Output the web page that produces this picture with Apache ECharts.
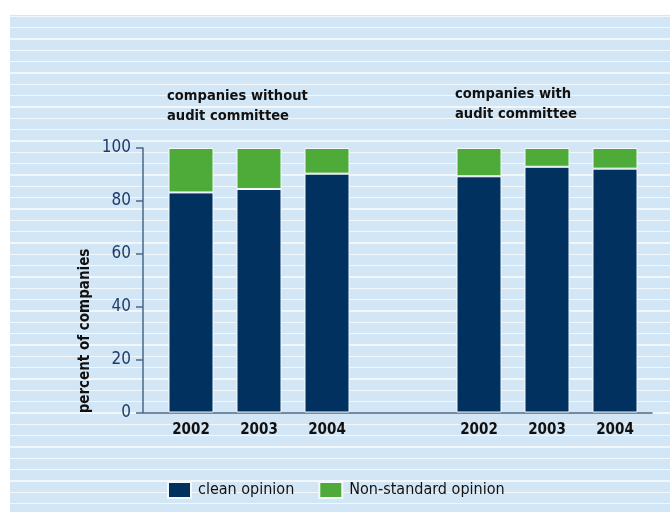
<!DOCTYPE html>
<html>
<head>
<meta charset="utf-8">
<script src="https://cdn.jsdelivr.net/npm/echarts@6/dist/echarts.min.js"></script>
<style>
  html, body { margin: 0; padding: 0; background: #ffffff; }
  #wrap { position: relative; width: 670px; height: 512px; overflow: hidden; }
  /* lined paper look behind the chart */
  #paper {
    position: absolute; left: 10px; top: 15px; right: 0; bottom: 0;
    background: repeating-linear-gradient(to bottom,
      #d3e6f5 0px, #d3e6f5 0.6px,
      #f2f7fc 0.6px, #f2f7fc 2px,
      #d3e6f5 2px, #d3e6f5 11.333px);
  }
  #main { position: absolute; left: 0; top: 0; width: 670px; height: 512px; }
</style>
</head>
<body>
<div id="wrap">
  <div id="paper"></div>
  <div id="main"></div>
</div>
<script>
  // data
  var years = ['2002', '2003', '2004'];
  var cleanWithout = [83.2, 84.5, 90.3];
  var otherWithout = [16.8, 15.5, 9.7];
  var cleanWith = [89.3, 92.9, 92.2];
  var otherWith = [10.7, 7.1, 7.8];
  var yTicks = [0, 20, 40, 60, 80, 100];

  var font = "'Liberation Sans Narrow', 'DejaVu Sans Condensed', 'Roboto Condensed', sans-serif";
  var navy = '#00315f';
  var green = '#4fab39';

  var chart = echarts.init(document.getElementById('main'));

  // hidden y axis for the two bar grids
  function hiddenY(idx) {
    return {
      type: 'value', gridIndex: idx, min: 0, max: 100, interval: 20,
      show: false, splitLine: { show: false }
    };
  }
  function yearAxis(idx) {
    return {
      type: 'category', gridIndex: idx, data: years,
      axisLine: { show: false }, axisTick: { show: false },
      axisLabel: { color: '#111', fontFamily: font, fontWeight: 'bold', fontSize: 15, margin: 10 }
    };
  }
  function barSeries(name, data, color, gi, stack) {
    return {
      name: name, type: 'bar', stack: stack, xAxisIndex: gi, yAxisIndex: gi,
      data: data, barWidth: 45,
      itemStyle: { color: color, borderColor: '#f4f8fc', borderWidth: 1 },
      emphasis: { disabled: true }
    };
  }

  var option = {
    backgroundColor: 'transparent',
    animation: false,
    textStyle: { fontFamily: font },
    grid: [
      { left: 157, width: 204, top: 148, height: 264.5 },
      { left: 445, width: 204, top: 148, height: 264.5 },
      // frame grid: carries the visible y axis and the baseline
      { left: 143, right: 18, top: 148, height: 264.5 }
    ],
    xAxis: [
      yearAxis(0),
      yearAxis(1),
      {
        type: 'value', gridIndex: 2, min: 0, max: 1,
        axisLine: { show: true, lineStyle: { color: '#4a6787', width: 1.5 } },
        axisTick: { show: false }, axisLabel: { show: false }, splitLine: { show: false }
      }
    ],
    yAxis: [
      hiddenY(0),
      hiddenY(1),
      {
        type: 'value', gridIndex: 2, min: 0, max: 100, interval: 20,
        axisLine: { show: true, lineStyle: { color: '#4a6787', width: 1.5 } },
        axisTick: { show: true, inside: false, length: 7, lineStyle: { color: '#4a6787', width: 1.5 } },
        axisLabel: {
          color: '#1d3c6a', fontFamily: font, fontSize: 17, margin: 12,
          formatter: function (v) { return yTicks.indexOf(v) >= 0 ? String(v) : ''; }
        },
        splitLine: { show: false }
      }
    ],
    legend: {
      left: 167, top: 481, padding: 0,
      itemWidth: 23, itemHeight: 16, itemGap: 24,
      selectedMode: false,
      icon: 'rect',
      textStyle: { color: '#111', fontFamily: font, fontSize: 16, padding: [0, 0, 0, 2] },
      data: ['clean opinion', 'Non-standard opinion']
    },
    graphic: [
      {
        type: 'text', left: 167, top: 86,
        style: { text: 'companies without\naudit committee', fill: '#111', font: 'bold 14.6px ' + font, lineHeight: 20 }
      },
      {
        type: 'text', left: 455, top: 84,
        style: { text: 'companies with\naudit committee', fill: '#111', font: 'bold 14.6px ' + font, lineHeight: 20 }
      },
      {
        type: 'text', x: 85, y: 331, rotation: Math.PI / 2,
        style: {
          text: 'percent of companies', fill: '#111', font: 'bold 15px ' + font,
          align: 'center', verticalAlign: 'middle'
        }
      }
    ],
    series: [
      barSeries('clean opinion', cleanWithout, navy, 0, 'a'),
      barSeries('Non-standard opinion', otherWithout, green, 0, 'a'),
      barSeries('clean opinion', cleanWith, navy, 1, 'b'),
      barSeries('Non-standard opinion', otherWith, green, 1, 'b')
    ]
  };

  chart.setOption(option);
</script>
</body>
</html>
